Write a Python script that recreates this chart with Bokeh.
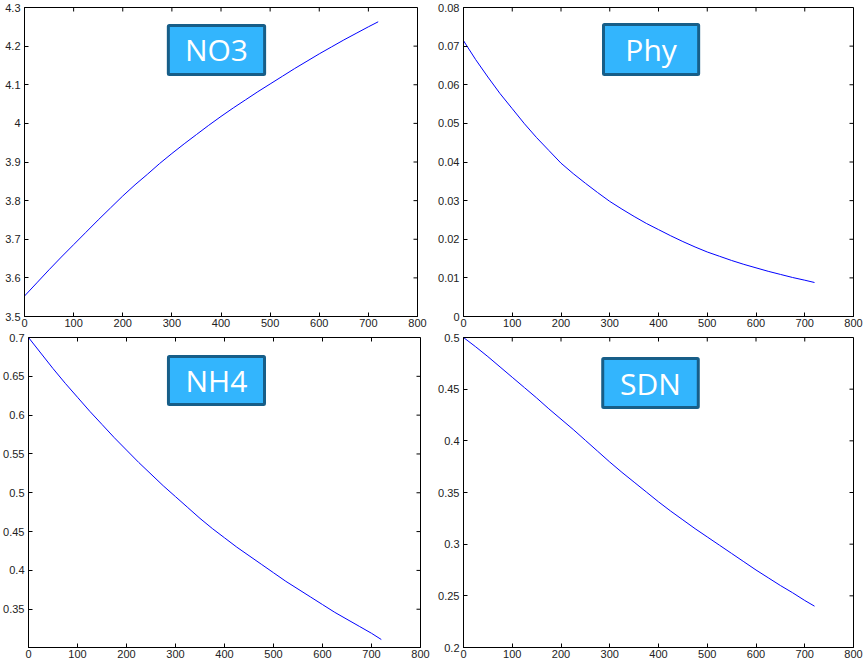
import math
from bokeh.plotting import figure
from bokeh.layouts import column, row
from bokeh.models import FixedTicker, BoxAnnotation, Label, Range1d
from bokeh.embed import file_html
from bokeh.resources import INLINE

# ---- data ----
time = [0, 25, 50, 75, 100, 125, 150, 175, 200, 225, 250, 275, 300, 325, 350, 375,
        400, 425, 450, 475, 500, 525, 550, 575, 600, 625, 650, 675, 700, 720]
no3 = [3.553, 3.587, 3.621, 3.654, 3.686, 3.718, 3.750, 3.781, 3.812, 3.841, 3.868,
       3.896, 3.922, 3.947, 3.971, 3.995, 4.018, 4.040, 4.061, 4.082, 4.102, 4.122,
       4.142, 4.161, 4.180, 4.198, 4.216, 4.233, 4.250, 4.263]
phy = [0.0714, 0.0665, 0.0620, 0.0577, 0.0538, 0.0499, 0.0463, 0.0430, 0.0397, 0.0370,
       0.0345, 0.0321, 0.0298, 0.0278, 0.0259, 0.0241, 0.0225, 0.0209, 0.0194, 0.0180,
       0.0167, 0.0156, 0.0145, 0.0135, 0.0126, 0.0117, 0.0109, 0.0101, 0.0094, 0.0088]
nh4 = [0.700, 0.680, 0.660, 0.641, 0.623, 0.605, 0.588, 0.571, 0.555, 0.539, 0.524,
       0.509, 0.495, 0.481, 0.467, 0.454, 0.442, 0.430, 0.419, 0.408, 0.397, 0.386,
       0.376, 0.366, 0.356, 0.346, 0.337, 0.328, 0.319, 0.311]
sdn = [0.500, 0.491, 0.4815, 0.4715, 0.4615, 0.4515, 0.4415, 0.431, 0.421, 0.411,
       0.4005, 0.390, 0.3795, 0.3695, 0.360, 0.3505, 0.341, 0.332, 0.3235, 0.315,
       0.307, 0.299, 0.291, 0.283, 0.275, 0.2675, 0.260, 0.253, 0.2455, 0.240]

x_ticks = [0, 100, 200, 300, 400, 500, 600, 700, 800]
no3_ticks = [3.5, 3.6, 3.7, 3.8, 3.9, 4.0, 4.1, 4.2, 4.3]
phy_ticks = [0, 0.01, 0.02, 0.03, 0.04, 0.05, 0.06, 0.07, 0.08]
nh4_ticks = [0.35, 0.4, 0.45, 0.5, 0.55, 0.6, 0.65, 0.7]
sdn_ticks = [0.2, 0.25, 0.3, 0.35, 0.4, 0.45, 0.5]

titles = ["NO3", "Phy", "NH4", "SDN"]

FONT = "Liberation Sans"
TXT = "#222222"


def style_axis(ax):
    ax.major_tick_in = 4
    ax.major_tick_out = 0
    ax.minor_tick_in = 0
    ax.minor_tick_out = 0
    ax.axis_line_color = "black"
    ax.axis_line_width = 1
    ax.major_tick_line_color = "black"
    ax.major_label_text_font = FONT
    ax.major_label_text_font_size = "11px"
    ax.major_label_text_color = TXT


def panel(y, yticks, yr, title, width, height, bl, br, bt, bb, box):
    p = figure(width=width, height=height, output_backend="svg", toolbar_location=None,
               x_range=Range1d(0, 800), y_range=Range1d(*yr),
               min_border_left=bl, min_border_right=br, min_border_top=bt,
               min_border_bottom=bb)
    p.grid.visible = False
    p.outline_line_color = "black"
    p.outline_line_alpha = 1.0
    p.background_fill_color = "white"
    p.border_fill_color = "white"
    p.xaxis.ticker = FixedTicker(ticks=x_ticks)
    p.yaxis.ticker = FixedTicker(ticks=yticks)
    style_axis(p.xaxis[0])
    style_axis(p.yaxis[0])
    p.xaxis.major_label_standoff = 2
    p.yaxis.major_label_standoff = 4

    # mirrored inward ticks on the top and right edges of the box
    p.ray(x=x_ticks, y=[yr[1]] * len(x_ticks), length=4, length_units="screen",
          angle=-math.pi / 2, line_color="black", line_width=1)
    p.ray(x=[800] * len(yticks), y=yticks, length=4, length_units="screen",
          angle=math.pi, line_color="black", line_width=1)

    p.line(time, y, line_color="#0000ff", line_width=1)

    # title box, placed as fractions of the frame
    fx0, fx1, fy0, fy1 = box
    span = yr[1] - yr[0]
    left = fx0 * 800
    rgt = fx1 * 800
    btop = yr[1] - fy0 * span
    bbot = yr[1] - fy1 * span
    p.add_layout(BoxAnnotation(left=left, right=rgt, top=btop, bottom=bbot,
                               fill_color="#33b5fd", fill_alpha=1.0,
                               line_color="#175e88", line_alpha=1.0, line_width=3,
                               border_radius=1))
    p.add_layout(Label(x=(left + rgt) / 2, y=(btop + bbot) / 2, text=title,
                       text_align="center", text_baseline="middle",
                       text_font="Open Sans", text_font_size="30px",
                       text_color="white"))
    return p


p1 = panel(no3, no3_ticks, (3.5, 4.3), titles[0], 435, 332, 24, 18, 7, 16,
           (0.366, 0.611, 0.058, 0.217))
p2 = panel(phy, phy_ticks, (0, 0.08), titles[1], 430, 332, 25, 12, 7, 16,
           (0.359, 0.603, 0.055, 0.217))
p3 = panel(nh4, nh4_ticks, (0.3007, 0.7), titles[2], 435, 331, 28, 15, 5, 16,
           (0.357, 0.602, 0.061, 0.216))
p4 = panel(sdn, sdn_ticks, (0.2, 0.5), titles[3], 430, 331, 26, 12, 5, 16,
           (0.357, 0.602, 0.068, 0.226))

layout = column(row(p1, p2, spacing=0), row(p3, p4, spacing=0), spacing=0)

open("out.html", "w").write(file_html(layout, INLINE))
